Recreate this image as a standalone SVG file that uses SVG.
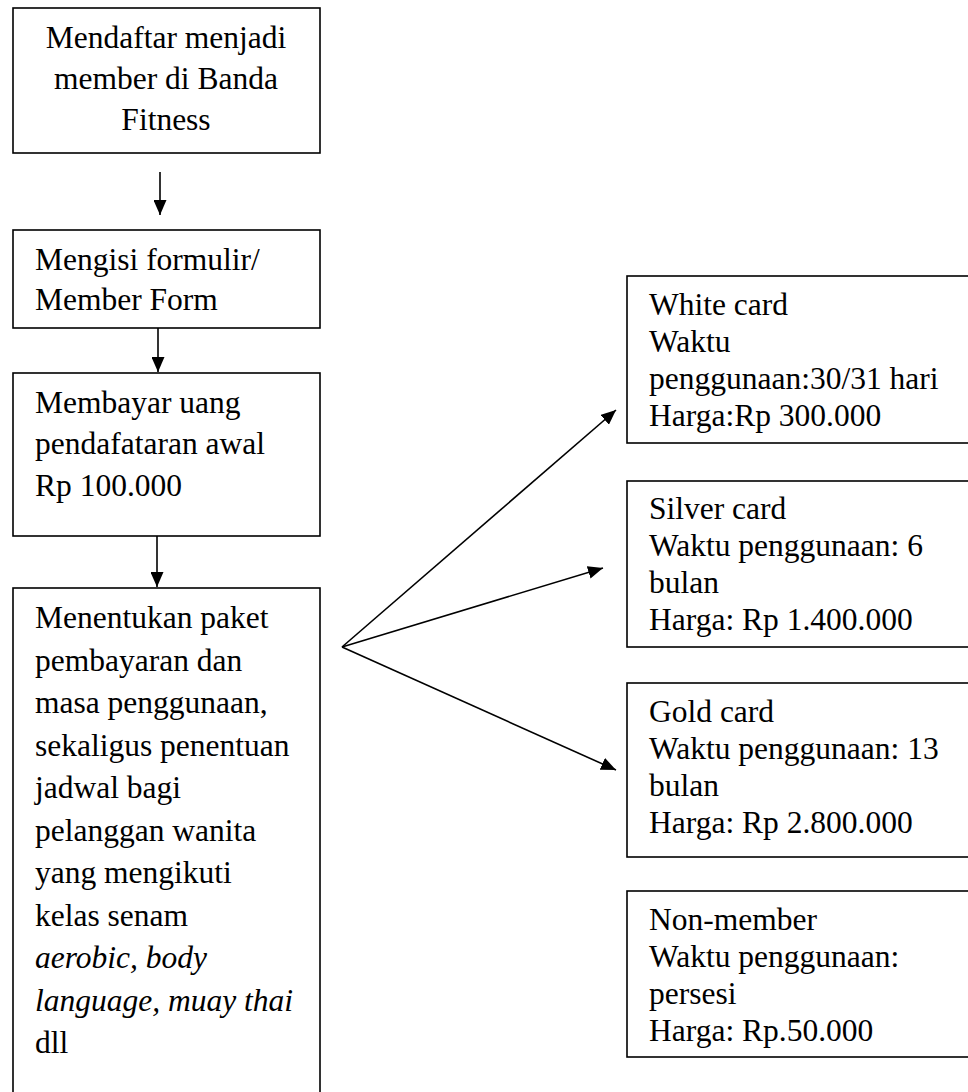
<svg xmlns="http://www.w3.org/2000/svg" width="968" height="1092" viewBox="0 0 968 1092">
<style>
.box{fill:#fff;stroke:#000;stroke-width:1.6}
.t{font-family:"Liberation Serif","Times New Roman",serif;font-size:31.5px;fill:#000}
.c{text-anchor:middle}
.i{font-style:italic}
.ln{stroke:#000;stroke-width:1.6;fill:none}
</style>
<defs>
<marker id="ah" markerUnits="userSpaceOnUse" markerWidth="16" markerHeight="13" refX="15" refY="6.5" orient="auto">
<path d="M0,0 L15,6.5 L0,13 z" fill="#000"/>
</marker>
</defs>
<rect width="968" height="1092" fill="#fff"/>
<g id="connectors">
<line class="ln" x1="160" y1="172" x2="160" y2="215" marker-end="url(#ah)"/>
<line class="ln" x1="158" y1="328" x2="158" y2="372" marker-end="url(#ah)"/>
<line class="ln" x1="157" y1="536" x2="157" y2="587" marker-end="url(#ah)"/>
<line class="ln" x1="342" y1="647" x2="616" y2="410" marker-end="url(#ah)"/>
<line class="ln" x1="342" y1="647" x2="603" y2="568" marker-end="url(#ah)"/>
<line class="ln" x1="342" y1="647" x2="616" y2="770" marker-end="url(#ah)"/>
</g>
<g id="n1">
<rect class="box" x="13" y="8" width="307" height="145"/>
<text class="t c" x="166" y="48">Mendaftar menjadi</text>
<text class="t c" x="166" y="89">member di Banda</text>
<text class="t c" x="166" y="130">Fitness</text>
</g>
<g id="n2">
<rect class="box" x="13" y="230" width="307" height="98"/>
<text class="t" x="35" y="270">Mengisi formulir/</text>
<text class="t" x="35" y="310">Member Form</text>
</g>
<g id="n3">
<rect class="box" x="13" y="373" width="307" height="163"/>
<text class="t" x="35" y="413">Membayar uang</text>
<text class="t" x="35" y="454">pendafataran awal</text>
<text class="t" x="35" y="496">Rp 100.000</text>
</g>
<g id="n4">
<rect class="box" x="13" y="588" width="307" height="520"/>
<text class="t" x="35" y="628">Menentukan paket</text>
<text class="t" x="35" y="670.5">pembayaran dan</text>
<text class="t" x="35" y="713">masa penggunaan,</text>
<text class="t" x="35" y="755.5">sekaligus penentuan</text>
<text class="t" x="35" y="798">jadwal bagi</text>
<text class="t" x="35" y="840.5">pelanggan wanita</text>
<text class="t" x="35" y="883">yang mengikuti</text>
<text class="t" x="35" y="925.5">kelas senam</text>
<text class="t i" x="35" y="968">aerobic, body</text>
<text class="t i" x="35" y="1010.5">language, muay thai</text>
<text class="t" x="35" y="1053">dll</text>
</g>
<g id="n5">
<rect class="box" x="627" y="276" width="360" height="167"/>
<text class="t" x="649" y="315">White card</text>
<text class="t" x="649" y="352">Waktu</text>
<text class="t" x="649" y="389">penggunaan:30/31 hari</text>
<text class="t" x="649" y="426">Harga:Rp 300.000</text>
</g>
<g id="n6">
<rect class="box" x="627" y="481" width="360" height="166"/>
<text class="t" x="649" y="519">Silver card</text>
<text class="t" x="649" y="556">Waktu penggunaan: 6</text>
<text class="t" x="649" y="593">bulan</text>
<text class="t" x="649" y="630">Harga: Rp 1.400.000</text>
</g>
<g id="n7">
<rect class="box" x="627" y="683" width="360" height="174"/>
<text class="t" x="649" y="722">Gold card</text>
<text class="t" x="649" y="759">Waktu penggunaan: 13</text>
<text class="t" x="649" y="796">bulan</text>
<text class="t" x="649" y="833">Harga: Rp 2.800.000</text>
</g>
<g id="n8">
<rect class="box" x="627" y="891" width="360" height="166"/>
<text class="t" x="649" y="930">Non-member</text>
<text class="t" x="649" y="967">Waktu penggunaan:</text>
<text class="t" x="649" y="1004">persesi</text>
<text class="t" x="649" y="1041">Harga: Rp.50.000</text>
</g>
</svg>
